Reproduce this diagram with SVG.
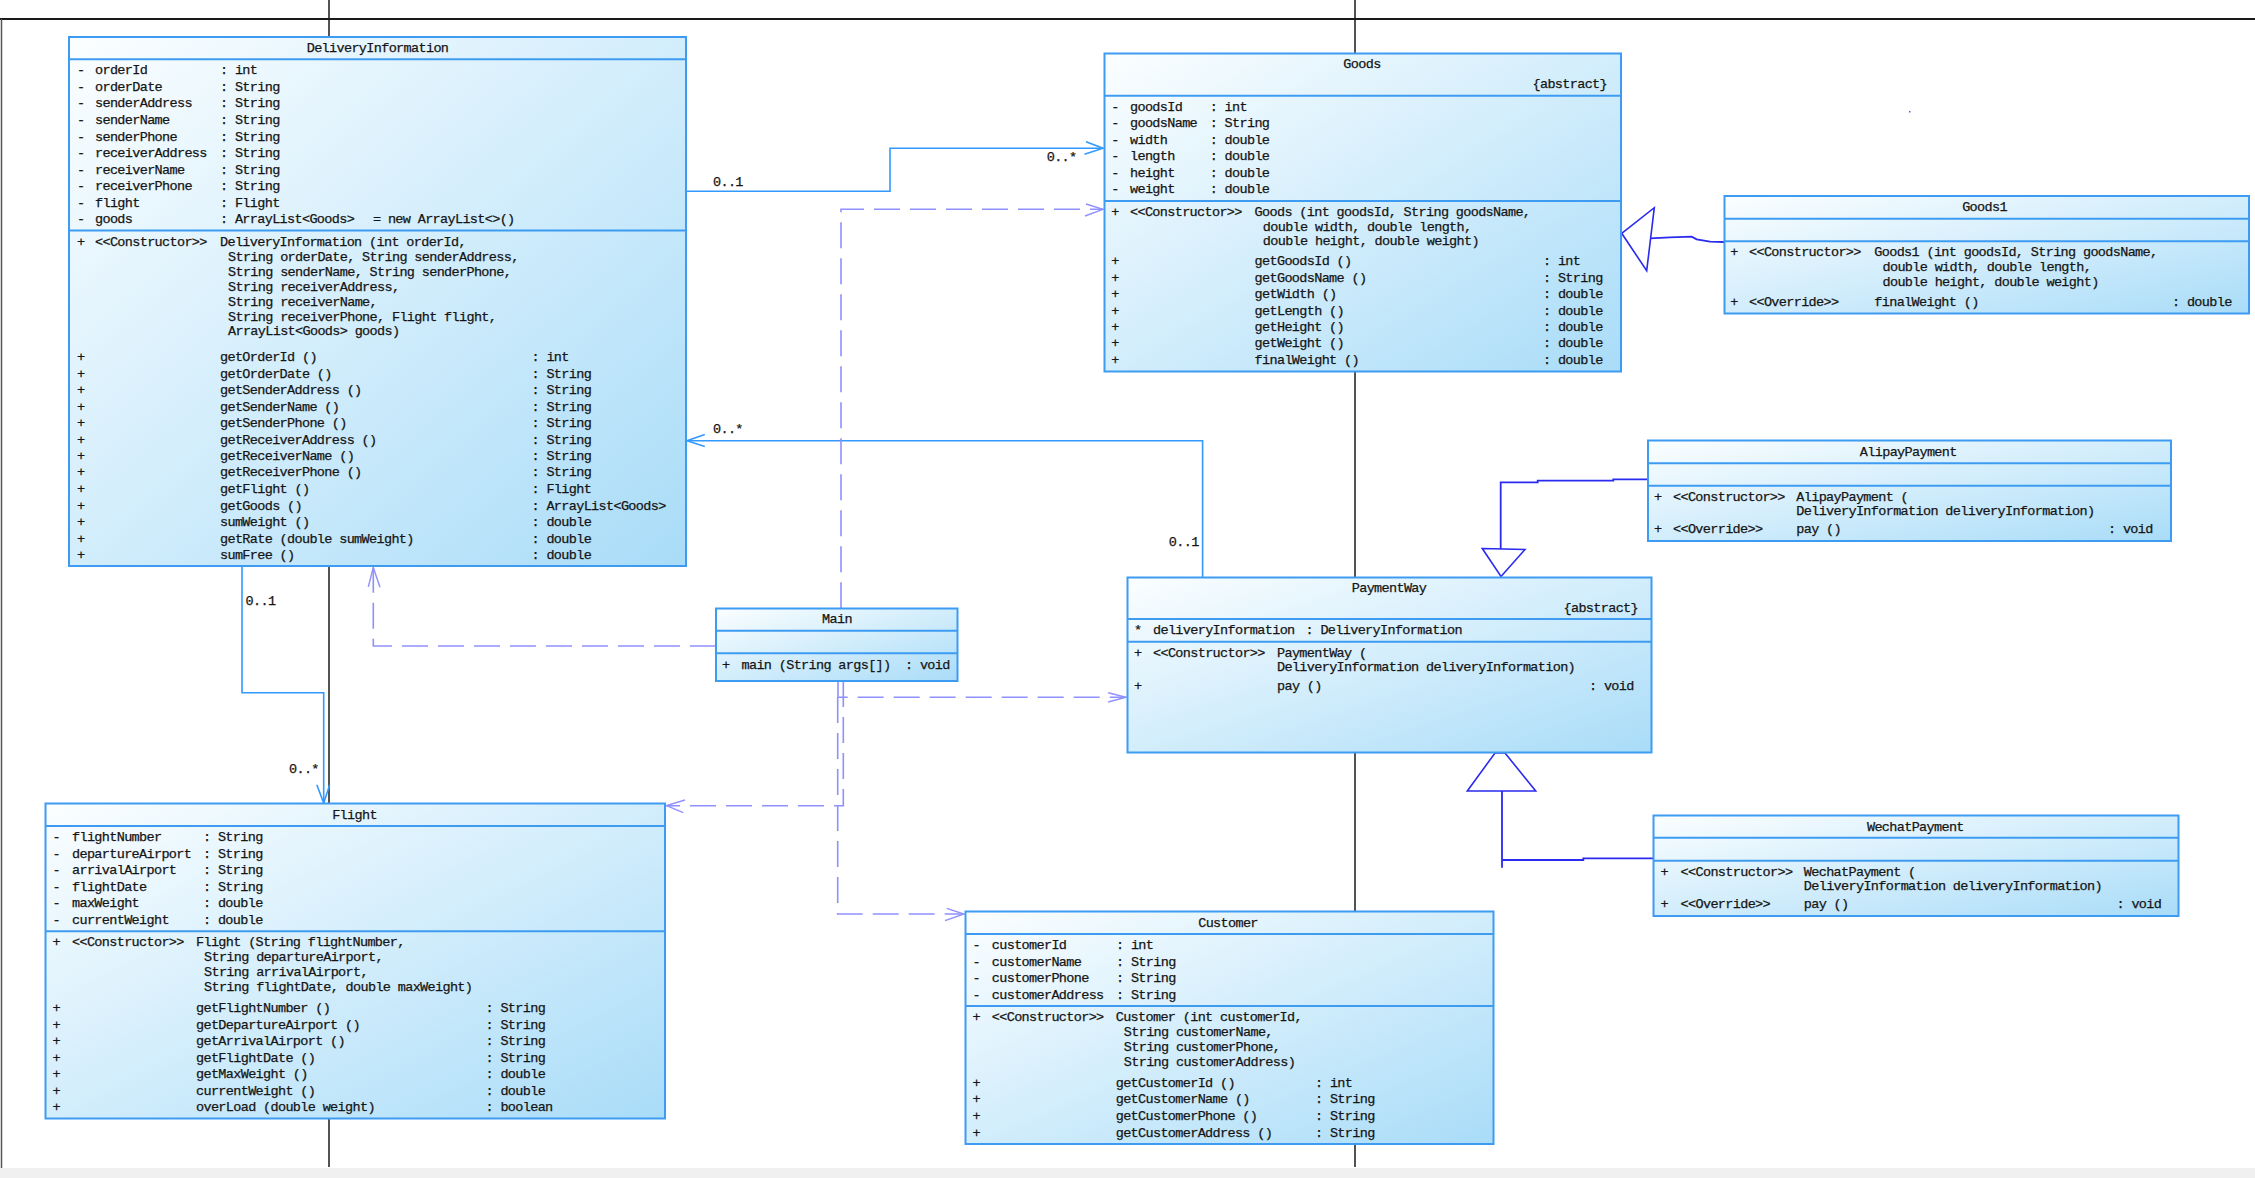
<svg xmlns="http://www.w3.org/2000/svg" width="2255" height="1178" viewBox="0 0 2255 1178">
<defs>
<linearGradient id="g" x1="0" y1="0" x2="1" y2="1">
<stop offset="0" stop-color="#fbfeff"/>
<stop offset="1" stop-color="#a9dcf8"/>
</linearGradient>
<style>
.box{fill:url(#g);stroke:#3d9cf2;stroke-width:2}
.dv{stroke:#3d9cf2;stroke-width:2}
.t{font-family:"Liberation Mono","DejaVu Sans Mono",monospace;font-size:13.5px;fill:#151515;stroke:#151515;stroke-width:0.25px;letter-spacing:-0.65px}
.c{text-anchor:middle}
.e{text-anchor:end}
.as{fill:none;stroke:#3399ff;stroke-width:1.6}
.dep{fill:none;stroke:#9090ff;stroke-width:1.6;stroke-dasharray:26 10}
.da{fill:none;stroke:#9090ff;stroke-width:1.4}
.gen{fill:none;stroke:#2a2af0;stroke-width:1.8}
.gt{fill:#fff;stroke:#2a2af0;stroke-width:1.6}
.bg{stroke:#1a1a1a;stroke-width:1.5}
</style>
</defs>
<rect x="0" y="0" width="2255" height="1178" fill="#fff"/>
<g id="background">
<line class="bg" x1="0" y1="19" x2="2255" y2="19" stroke="#3a3a3a" style="stroke-width:2"/>
<line class="bg" x1="1.5" y1="19" x2="1.5" y2="1168" style="stroke:#555"/>
<line class="bg" x1="329" y1="0" x2="329" y2="1167"/>
<line class="bg" x1="1355" y1="0" x2="1355" y2="1167"/>
<rect x="0" y="1168" width="2255" height="10" fill="#f0f0f0"/>
<rect x="1909" y="111" width="1.5" height="1.5" fill="#3366ff"/>
</g>

<g id="connectors">
<polyline class="as" points="686,191.3 890,191.3 890,148.3 1103,148.3"/>
<polyline class="as" points="1086,141.7 1103,148.3 1084.5,154.3"/>
<text class="t" x="713" y="185.7">0..1</text>
<text class="t" x="1046.7" y="161.3">0..*</text>

<polyline class="as" points="1202.6,577 1202.6,440.7 687,440.7"/>
<polyline class="as" points="704.8,434.6 687,440.7 704.8,446.5"/>
<text class="t" x="713" y="433.3">0..*</text>
<text class="t" x="1168.8" y="545.7">0..1</text>

<polyline class="as" points="242,566 242,692.8 323.7,692.8 323.7,803"/>
<polyline class="as" points="316.8,784.7 323.7,803 329.7,784.7"/>
<text class="t" x="245.6" y="605.4">0..1</text>
<text class="t" x="289" y="773">0..*</text>

<polyline class="dep" points="716,646 373.3,646 373.3,567.5"/>
<polyline class="da" points="368.3,586.7 373.3,567.5 380,587.3"/>
<polyline class="dep" points="841,608.3 841,209.3 1103,209.3"/>
<polyline class="da" points="1086,204 1103,209.3 1085,216"/>
<polyline class="dep" points="838,681 838,697.3 1126,697.3"/>
<polyline class="da" points="1108.2,692.7 1126,697.3 1108.2,702"/>
<polyline class="dep" points="843.3,681 843.3,805.7 666.5,805.7"/>
<polyline class="da" points="685,800 666.5,805.7 683.3,812.7"/>
<polyline class="dep" points="837.7,697 837.7,914 964,914"/>
<polyline class="da" points="946.7,908.3 964,914 945,920.7"/>

<polygon class="gt" points="1621.7,233.3 1654.3,207.7 1646.7,270.7"/>
<polyline class="gen" points="1650,238.3 1670,237.3 1691.7,236.7 1696.7,239.3 1710,241.7 1724,242"/>
<polyline class="gen" points="1647.3,479.3 1613.3,479.3 1613.3,480.7 1537.7,480.7 1537.7,482.3 1500.7,482.3 1500.7,549"/>
<polygon class="gt" points="1482.3,548.5 1525,549.5 1501,576.5"/>
<polygon class="gt" points="1495,753 1505,753 1535.7,791 1467.3,791"/>
<polyline class="gen" points="1502,791 1502,867.7"/>
<polyline class="gen" points="1502,860 1583.3,860 1583.3,858.3 1653.3,858.3"/>
</g>

<g id="DeliveryInformation">
<rect class="box" x="69" y="37" width="617" height="529"/>
<line class="dv" x1="69" y1="59.2" x2="686" y2="59.2"/>
<line class="dv" x1="69" y1="230.4" x2="686" y2="230.4"/>
<text class="t c" x="377.5" y="52">DeliveryInformation</text>
<text class="t" y="74.3"><tspan x="77">-</tspan><tspan x="95">orderId</tspan><tspan x="220">: int</tspan></text>
<text class="t" y="90.9"><tspan x="77">-</tspan><tspan x="95">orderDate</tspan><tspan x="220">: String</tspan></text>
<text class="t" y="107.4"><tspan x="77">-</tspan><tspan x="95">senderAddress</tspan><tspan x="220">: String</tspan></text>
<text class="t" y="124"><tspan x="77">-</tspan><tspan x="95">senderName</tspan><tspan x="220">: String</tspan></text>
<text class="t" y="140.6"><tspan x="77">-</tspan><tspan x="95">senderPhone</tspan><tspan x="220">: String</tspan></text>
<text class="t" y="157.2"><tspan x="77">-</tspan><tspan x="95">receiverAddress</tspan><tspan x="220">: String</tspan></text>
<text class="t" y="173.7"><tspan x="77">-</tspan><tspan x="95">receiverName</tspan><tspan x="220">: String</tspan></text>
<text class="t" y="190.3"><tspan x="77">-</tspan><tspan x="95">receiverPhone</tspan><tspan x="220">: String</tspan></text>
<text class="t" y="206.9"><tspan x="77">-</tspan><tspan x="95">flight</tspan><tspan x="220">: Flight</tspan></text>
<text class="t" y="223.4"><tspan x="77">-</tspan><tspan x="95">goods</tspan><tspan x="220">: ArrayList&lt;Goods&gt;</tspan><tspan x="373">= new ArrayList&lt;&gt;()</tspan></text>
<text class="t" y="245.5"><tspan x="77">+</tspan><tspan x="95">&lt;&lt;Constructor&gt;&gt;</tspan><tspan x="220">DeliveryInformation (int orderId,</tspan></text>
<text class="t" x="228" y="260.7">String orderDate, String senderAddress,</text>
<text class="t" x="228" y="275.9">String senderName, String senderPhone,</text>
<text class="t" x="228" y="290.7">String receiverAddress,</text>
<text class="t" x="228" y="305.8">String receiverName,</text>
<text class="t" x="228" y="320.6">String receiverPhone, Flight flight,</text>
<text class="t" x="228" y="335.4">ArrayList&lt;Goods&gt; goods)</text>
<text class="t" y="361"><tspan x="77">+</tspan><tspan x="220">getOrderId ()</tspan><tspan x="531.5">: int</tspan></text>
<text class="t" y="377.6"><tspan x="77">+</tspan><tspan x="220">getOrderDate ()</tspan><tspan x="531.5">: String</tspan></text>
<text class="t" y="394.2"><tspan x="77">+</tspan><tspan x="220">getSenderAddress ()</tspan><tspan x="531.5">: String</tspan></text>
<text class="t" y="410.5"><tspan x="77">+</tspan><tspan x="220">getSenderName ()</tspan><tspan x="531.5">: String</tspan></text>
<text class="t" y="427.2"><tspan x="77">+</tspan><tspan x="220">getSenderPhone ()</tspan><tspan x="531.5">: String</tspan></text>
<text class="t" y="443.5"><tspan x="77">+</tspan><tspan x="220">getReceiverAddress ()</tspan><tspan x="531.5">: String</tspan></text>
<text class="t" y="460.1"><tspan x="77">+</tspan><tspan x="220">getReceiverName ()</tspan><tspan x="531.5">: String</tspan></text>
<text class="t" y="476.4"><tspan x="77">+</tspan><tspan x="220">getReceiverPhone ()</tspan><tspan x="531.5">: String</tspan></text>
<text class="t" y="493"><tspan x="77">+</tspan><tspan x="220">getFlight ()</tspan><tspan x="531.5">: Flight</tspan></text>
<text class="t" y="509.7"><tspan x="77">+</tspan><tspan x="220">getGoods ()</tspan><tspan x="531.5">: ArrayList&lt;Goods&gt;</tspan></text>
<text class="t" y="525.9"><tspan x="77">+</tspan><tspan x="220">sumWeight ()</tspan><tspan x="531.5">: double</tspan></text>
<text class="t" y="542.6"><tspan x="77">+</tspan><tspan x="220">getRate (double sumWeight)</tspan><tspan x="531.5">: double</tspan></text>
<text class="t" y="558.9"><tspan x="77">+</tspan><tspan x="220">sumFree ()</tspan><tspan x="531.5">: double</tspan></text>
</g>

<g id="Goods">
<rect class="box" x="1104.5" y="53.5" width="516.5" height="318"/>
<line class="dv" x1="1104.5" y1="95.7" x2="1621" y2="95.7"/>
<line class="dv" x1="1104.5" y1="201" x2="1621" y2="201"/>
<text class="t c" x="1362" y="68.3">Goods</text>
<text class="t e" x="1607" y="88.3">{abstract}</text>
<text class="t" y="110.7"><tspan x="1111.3">-</tspan><tspan x="1130">goodsId</tspan><tspan x="1209.7">: int</tspan></text>
<text class="t" y="127.3"><tspan x="1111.3">-</tspan><tspan x="1130">goodsName</tspan><tspan x="1209.7">: String</tspan></text>
<text class="t" y="144"><tspan x="1111.3">-</tspan><tspan x="1130">width</tspan><tspan x="1209.7">: double</tspan></text>
<text class="t" y="160.3"><tspan x="1111.3">-</tspan><tspan x="1130">length</tspan><tspan x="1209.7">: double</tspan></text>
<text class="t" y="176.7"><tspan x="1111.3">-</tspan><tspan x="1130">height</tspan><tspan x="1209.7">: double</tspan></text>
<text class="t" y="193"><tspan x="1111.3">-</tspan><tspan x="1130">weight</tspan><tspan x="1209.7">: double</tspan></text>
<text class="t" y="215.7"><tspan x="1111.3">+</tspan><tspan x="1130">&lt;&lt;Constructor&gt;&gt;</tspan><tspan x="1254.6">Goods (int goodsId, String goodsName,</tspan></text>
<text class="t" x="1262.8" y="230.7">double width, double length,</text>
<text class="t" x="1262.8" y="245.3">double height, double weight)</text>
<text class="t" y="265"><tspan x="1111.3">+</tspan><tspan x="1254.6">getGoodsId ()</tspan><tspan x="1543">: int</tspan></text>
<text class="t" y="281.7"><tspan x="1111.3">+</tspan><tspan x="1254.6">getGoodsName ()</tspan><tspan x="1543">: String</tspan></text>
<text class="t" y="298"><tspan x="1111.3">+</tspan><tspan x="1254.6">getWidth ()</tspan><tspan x="1543">: double</tspan></text>
<text class="t" y="314.7"><tspan x="1111.3">+</tspan><tspan x="1254.6">getLength ()</tspan><tspan x="1543">: double</tspan></text>
<text class="t" y="331"><tspan x="1111.3">+</tspan><tspan x="1254.6">getHeight ()</tspan><tspan x="1543">: double</tspan></text>
<text class="t" y="347.3"><tspan x="1111.3">+</tspan><tspan x="1254.6">getWeight ()</tspan><tspan x="1543">: double</tspan></text>
<text class="t" y="364"><tspan x="1111.3">+</tspan><tspan x="1254.6">finalWeight ()</tspan><tspan x="1543">: double</tspan></text>
</g>

<g id="Goods1">
<rect class="box" x="1724.5" y="196" width="524.5" height="117.5"/>
<line class="dv" x1="1724.5" y1="218.7" x2="2249" y2="218.7"/>
<line class="dv" x1="1724.5" y1="241.3" x2="2249" y2="241.3"/>
<text class="t c" x="1984.5" y="211.3">Goods1</text>
<text class="t" y="256.3"><tspan x="1730.3">+</tspan><tspan x="1749">&lt;&lt;Constructor&gt;&gt;</tspan><tspan x="1874.3">Goods1 (int goodsId, String goodsName,</tspan></text>
<text class="t" x="1882.5" y="271.3">double width, double length,</text>
<text class="t" x="1882.5" y="286.3">double height, double weight)</text>
<text class="t" y="305.7"><tspan x="1730.3">+</tspan><tspan x="1749">&lt;&lt;Override&gt;&gt;</tspan><tspan x="1874.3">finalWeight ()</tspan><tspan x="2172">: double</tspan></text>
</g>

<g id="AlipayPayment">
<rect class="box" x="1648" y="440.5" width="523" height="100.5"/>
<line class="dv" x1="1648" y1="463.3" x2="2171" y2="463.3"/>
<line class="dv" x1="1648" y1="485.7" x2="2171" y2="485.7"/>
<text class="t c" x="1908.3" y="455.7">AlipayPayment</text>
<text class="t" y="500.7"><tspan x="1654">+</tspan><tspan x="1673">&lt;&lt;Constructor&gt;&gt;</tspan><tspan x="1796.3">AlipayPayment (</tspan></text>
<text class="t" x="1796.3" y="515">DeliveryInformation deliveryInformation)</text>
<text class="t" y="533.3"><tspan x="1654">+</tspan><tspan x="1673">&lt;&lt;Override&gt;&gt;</tspan><tspan x="1796.3">pay ()</tspan><tspan x="2108">: void</tspan></text>
</g>

<g id="PaymentWay">
<rect class="box" x="1127.5" y="577.5" width="524" height="175"/>
<line class="dv" x1="1127.5" y1="619" x2="1651.5" y2="619"/>
<line class="dv" x1="1127.5" y1="641.7" x2="1651.5" y2="641.7"/>
<text class="t c" x="1389" y="592.3">PaymentWay</text>
<text class="t e" x="1638" y="612.3">{abstract}</text>
<text class="t" y="634"><tspan x="1134">*</tspan><tspan x="1153">deliveryInformation</tspan><tspan x="1305.5">: DeliveryInformation</tspan></text>
<text class="t" y="656.7"><tspan x="1134">+</tspan><tspan x="1153">&lt;&lt;Constructor&gt;&gt;</tspan><tspan x="1277">PaymentWay (</tspan></text>
<text class="t" x="1277" y="671.3">DeliveryInformation deliveryInformation)</text>
<text class="t" y="689.7"><tspan x="1134">+</tspan><tspan x="1277">pay ()</tspan><tspan x="1589">: void</tspan></text>
</g>

<g id="Main">
<rect class="box" x="716" y="608.5" width="241.5" height="72.5"/>
<line class="dv" x1="716" y1="630.7" x2="957.5" y2="630.7"/>
<line class="dv" x1="716" y1="653.3" x2="957.5" y2="653.3"/>
<text class="t c" x="837" y="623.3">Main</text>
<text class="t" y="669"><tspan x="722">+</tspan><tspan x="741.5">main (String args[])</tspan><tspan x="905">: void</tspan></text>
</g>

<g id="WechatPayment">
<rect class="box" x="1653.5" y="815.5" width="525" height="100.5"/>
<line class="dv" x1="1653.5" y1="837.7" x2="2178.5" y2="837.7"/>
<line class="dv" x1="1653.5" y1="860.7" x2="2178.5" y2="860.7"/>
<text class="t c" x="1915.4" y="830.7">WechatPayment</text>
<text class="t" y="875.7"><tspan x="1660.5">+</tspan><tspan x="1680.6">&lt;&lt;Constructor&gt;&gt;</tspan><tspan x="1803.8">WechatPayment (</tspan></text>
<text class="t" x="1803.8" y="890">DeliveryInformation deliveryInformation)</text>
<text class="t" y="908.3"><tspan x="1660.5">+</tspan><tspan x="1680.6">&lt;&lt;Override&gt;&gt;</tspan><tspan x="1803.8">pay ()</tspan><tspan x="2116.5">: void</tspan></text>
</g>

<g id="Flight">
<rect class="box" x="45.5" y="803.5" width="619.5" height="315"/>
<line class="dv" x1="45.5" y1="826" x2="665" y2="826"/>
<line class="dv" x1="45.5" y1="931.3" x2="665" y2="931.3"/>
<text class="t c" x="354.5" y="818.6">Flight</text>
<text class="t" y="841"><tspan x="52.5">-</tspan><tspan x="72">flightNumber</tspan><tspan x="203">: String</tspan></text>
<text class="t" y="857.6"><tspan x="52.5">-</tspan><tspan x="72">departureAirport</tspan><tspan x="203">: String</tspan></text>
<text class="t" y="874.2"><tspan x="52.5">-</tspan><tspan x="72">arrivalAirport</tspan><tspan x="203">: String</tspan></text>
<text class="t" y="890.8"><tspan x="52.5">-</tspan><tspan x="72">flightDate</tspan><tspan x="203">: String</tspan></text>
<text class="t" y="907.3"><tspan x="52.5">-</tspan><tspan x="72">maxWeight</tspan><tspan x="203">: double</tspan></text>
<text class="t" y="923.9"><tspan x="52.5">-</tspan><tspan x="72">currentWeight</tspan><tspan x="203">: double</tspan></text>
<text class="t" y="946"><tspan x="52.5">+</tspan><tspan x="72">&lt;&lt;Constructor&gt;&gt;</tspan><tspan x="196">Flight (String flightNumber,</tspan></text>
<text class="t" x="204" y="961">String departureAirport,</text>
<text class="t" x="204" y="976">String arrivalAirport,</text>
<text class="t" x="204" y="991">String flightDate, double maxWeight)</text>
<text class="t" y="1012.2"><tspan x="52.5">+</tspan><tspan x="196">getFlightNumber ()</tspan><tspan x="485.5">: String</tspan></text>
<text class="t" y="1028.7"><tspan x="52.5">+</tspan><tspan x="196">getDepartureAirport ()</tspan><tspan x="485.5">: String</tspan></text>
<text class="t" y="1045.3"><tspan x="52.5">+</tspan><tspan x="196">getArrivalAirport ()</tspan><tspan x="485.5">: String</tspan></text>
<text class="t" y="1061.8"><tspan x="52.5">+</tspan><tspan x="196">getFlightDate ()</tspan><tspan x="485.5">: String</tspan></text>
<text class="t" y="1078.4"><tspan x="52.5">+</tspan><tspan x="196">getMaxWeight ()</tspan><tspan x="485.5">: double</tspan></text>
<text class="t" y="1094.6"><tspan x="52.5">+</tspan><tspan x="196">currentWeight ()</tspan><tspan x="485.5">: double</tspan></text>
<text class="t" y="1111"><tspan x="52.5">+</tspan><tspan x="196">overLoad (double weight)</tspan><tspan x="485.5">: boolean</tspan></text>
</g>

<g id="Customer">
<rect class="box" x="965.5" y="911.5" width="528" height="232.5"/>
<line class="dv" x1="965.5" y1="934" x2="1493.5" y2="934"/>
<line class="dv" x1="965.5" y1="1006" x2="1493.5" y2="1006"/>
<text class="t c" x="1228" y="926.7">Customer</text>
<text class="t" y="949"><tspan x="972.4">-</tspan><tspan x="991.8">customerId</tspan><tspan x="1116">: int</tspan></text>
<text class="t" y="965.7"><tspan x="972.4">-</tspan><tspan x="991.8">customerName</tspan><tspan x="1116">: String</tspan></text>
<text class="t" y="982.3"><tspan x="972.4">-</tspan><tspan x="991.8">customerPhone</tspan><tspan x="1116">: String</tspan></text>
<text class="t" y="999"><tspan x="972.4">-</tspan><tspan x="991.8">customerAddress</tspan><tspan x="1116">: String</tspan></text>
<text class="t" y="1020.7"><tspan x="972.4">+</tspan><tspan x="991.8">&lt;&lt;Constructor&gt;&gt;</tspan><tspan x="1115.7">Customer (int customerId,</tspan></text>
<text class="t" x="1123.8" y="1036.3">String customerName,</text>
<text class="t" x="1123.8" y="1051.3">String customerPhone,</text>
<text class="t" x="1123.8" y="1066.3">String customerAddress)</text>
<text class="t" y="1086.7"><tspan x="972.4">+</tspan><tspan x="1115.7">getCustomerId ()</tspan><tspan x="1315">: int</tspan></text>
<text class="t" y="1103.3"><tspan x="972.4">+</tspan><tspan x="1115.7">getCustomerName ()</tspan><tspan x="1315">: String</tspan></text>
<text class="t" y="1120"><tspan x="972.4">+</tspan><tspan x="1115.7">getCustomerPhone ()</tspan><tspan x="1315">: String</tspan></text>
<text class="t" y="1136.7"><tspan x="972.4">+</tspan><tspan x="1115.7">getCustomerAddress ()</tspan><tspan x="1315">: String</tspan></text>
</g>
</svg>
